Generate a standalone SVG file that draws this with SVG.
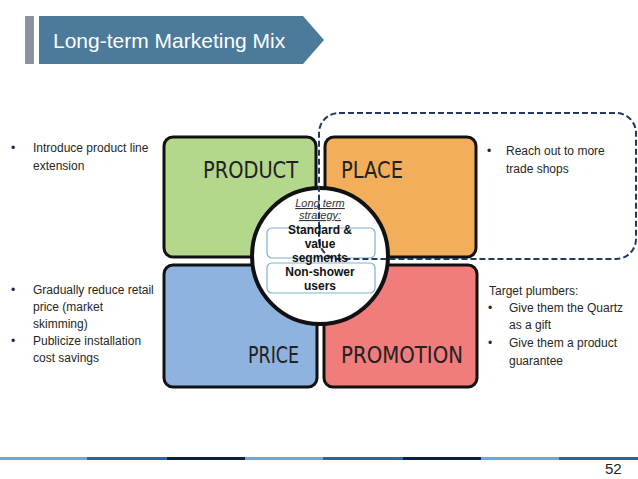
<svg xmlns="http://www.w3.org/2000/svg" width="638" height="479" viewBox="0 0 638 479">
<style>
.txt{font-family:"Liberation Sans",Arial,sans-serif;font-size:12px;fill:#262626}
.quad{stroke:#111;stroke-width:3}
.ql{font-family:"DejaVu Sans","Liberation Sans",sans-serif;font-size:23px;fill:#222}
.ct{font-family:"Liberation Sans",Arial,sans-serif;font-size:12px;font-weight:bold;fill:#111;text-anchor:middle}
.it{font-family:"Liberation Sans",Arial,sans-serif;font-size:11px;font-style:italic;fill:#333;text-anchor:middle;text-decoration:underline}
.box{fill:none;stroke:#7fb1cf;stroke-width:1.2}
</style>
<rect width="638" height="479" fill="#ffffff"/>
<g id="title">
<rect x="25" y="16" width="9" height="48" fill="#8c939c"/>
<polygon points="39,16 303,16 324,40 303,64 39,64" fill="#4b7a9a"/>
<text x="53" y="48" font-family="Liberation Sans,Arial,sans-serif" font-size="21" fill="#ffffff">Long-term Marketing Mix</text>
</g>
<g id="product">
<rect class="quad" x="164" y="137" width="152" height="120" rx="9" fill="#b3d78b"/>
<text class="ql" x="203" y="178" textLength="95" lengthAdjust="spacingAndGlyphs">PRODUCT</text>
</g>
<g id="place">
<rect class="quad" x="325" y="137" width="151" height="120" rx="9" fill="#f2ae5a"/>
<text class="ql" x="341" y="178" textLength="62" lengthAdjust="spacingAndGlyphs">PLACE</text>
</g>
<g id="price">
<rect class="quad" x="164" y="265" width="153" height="122" rx="9" fill="#8eb3df"/>
<text class="ql" x="248" y="363" textLength="51" lengthAdjust="spacingAndGlyphs">PRICE</text>
</g>
<g id="promotion">
<rect class="quad" x="324" y="265" width="153" height="122" rx="9" fill="#f17c7c"/>
<text class="ql" x="341" y="363" textLength="122" lengthAdjust="spacingAndGlyphs">PROMOTION</text>
</g>
<g id="strategy">
<circle cx="320" cy="256" r="68" fill="#ffffff" stroke="#111" stroke-width="4"/>
<text class="it" x="320" y="207">Long term</text>
<text class="it" x="320" y="219">strategy:</text>
<rect class="box" x="267" y="228" width="108" height="30" rx="5"/>
<rect class="box" x="267" y="263" width="108" height="30" rx="5"/>
</g>
<g id="connectors">
<rect x="319" y="113" width="317" height="146" rx="20" fill="none" stroke="#1f3864" stroke-width="2" stroke-dasharray="6 3"/>
</g>
<g id="strategy-labels">
<text class="ct" x="320" y="234">Standard &amp;</text>
<text class="ct" x="320" y="248">value</text>
<text class="ct" x="320" y="262">segments</text>
<text class="ct" x="320" y="276">Non-shower</text>
<text class="ct" x="320" y="290">users</text>
</g>
<g id="product-notes">
<text class="txt" x="11" y="152">•</text>
<text class="txt" x="33" y="152">Introduce product line</text>
<text class="txt" x="33" y="170">extension</text>
</g>
<g id="price-notes">
<text class="txt" x="11" y="294">•</text>
<text class="txt" x="33" y="294">Gradually reduce retail</text>
<text class="txt" x="33" y="311">price (market</text>
<text class="txt" x="33" y="328">skimming)</text>
<text class="txt" x="11" y="345">•</text>
<text class="txt" x="33" y="345">Publicize installation</text>
<text class="txt" x="33" y="362">cost savings</text>
</g>
<g id="place-notes">
<text class="txt" x="487" y="155">•</text>
<text class="txt" x="506" y="155">Reach out to more</text>
<text class="txt" x="506" y="173">trade shops</text>
</g>
<g id="promotion-notes">
<text class="txt" x="489" y="295">Target plumbers:</text>
<text class="txt" x="488" y="312">•</text>
<text class="txt" x="509" y="312">Give them the Quartz</text>
<text class="txt" x="509" y="329">as a gift</text>
<text class="txt" x="488" y="347">•</text>
<text class="txt" x="509" y="347">Give them a product</text>
<text class="txt" x="509" y="365">guarantee</text>
</g>
<g id="footer">
<rect x="0" y="457" width="87" height="3" fill="#6ea6d6"/>
<rect x="87" y="457" width="80" height="3" fill="#2c64a0"/>
<rect x="167" y="457" width="78" height="3" fill="#0d213d"/>
<rect x="245" y="457" width="78" height="3" fill="#6ea6d6"/>
<rect x="323" y="457" width="80" height="3" fill="#2c64a0"/>
<rect x="403" y="457" width="78" height="3" fill="#0d213d"/>
<rect x="481" y="457" width="78" height="3" fill="#6ea6d6"/>
<rect x="559" y="457" width="79" height="3" fill="#2c64a0"/>
<text x="605" y="474" font-family="Liberation Sans,Arial,sans-serif" font-size="15" fill="#222">52</text>
</g>
</svg>
